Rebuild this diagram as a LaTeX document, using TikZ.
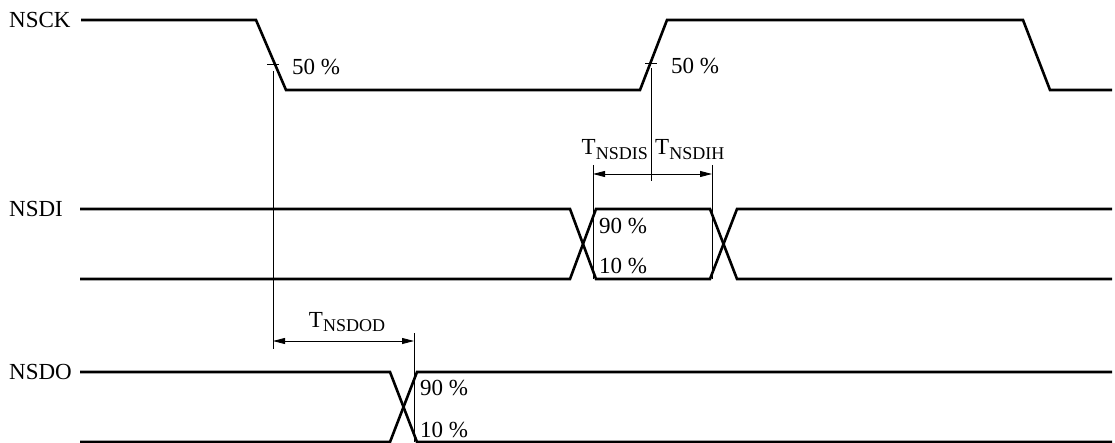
\documentclass[tikz,border=0pt]{standalone}
\usepackage{fontspec}
\setmainfont{Liberation Serif}
\usetikzlibrary{arrows.meta}
\newcommand\Tsubx[1]{T\raisebox{-4.5pt}{\fontsize{18}{18}\selectfont #1}}
\begin{document}
\begin{tikzpicture}[x=1pt,y=-1pt,
  sig/.style={line width=2.6pt, line join=miter},
  meas/.style={line width=0.9pt},
  dimarrow/.style={line width=0.9pt, {Triangle[length=12pt,width=6pt]}-{Triangle[length=12pt,width=6pt]}},
  lbl/.style={font=\fontsize{23}{27}\selectfont, inner sep=0pt},
]
\useasboundingbox (0,0) rectangle (1115,443);

% signal names
\node[lbl,anchor=west] (nsck) at (9,20) {NSCK};
\node[lbl,anchor=west] (nsdi) at (9,209) {NSDI};
\node[lbl,anchor=west] (nsdo) at (9,372) {NSDO};

% NSCK waveform
\draw[sig] (81,20) -- (256,20) -- (286,90) -- (640,90) -- (667,20) -- (1023,20) -- (1050,90) -- (1112,90);

% NSDI waveform
\draw[sig] (80,209) -- (570,209) -- (596,279) -- (710,279) -- (737,209) -- (1112,209);
\draw[sig] (80,279) -- (570,279) -- (596,209) -- (710,209) -- (737,279) -- (1112,279);

% NSDO waveform
\draw[sig] (80,372) -- (390,372) -- (417,442) -- (1112,442);
\draw[sig] (80,442) -- (390,442) -- (417,372) -- (1112,372);

% reference coordinates
\coordinate (fallref) at (273,64);
\coordinate (riseref) at (651,63);
\coordinate (fallbot) at (273,349);
\coordinate (risebot) at (651,181);
\coordinate (disL) at (593,165);
\coordinate (disLb) at (593,279);
\coordinate (dihR) at (712,165);
\coordinate (dihRb) at (712,279);
\coordinate (dodR) at (414,333);
\coordinate (dodRb) at (414,442);

% 50% marks and verticals
\draw[meas] ([xshift=-6pt]fallref) -- ([xshift=6pt]fallref);
\draw[meas] ([yshift=-7pt]fallref) -- (fallbot);
\draw[meas] ([xshift=-6pt]riseref) -- ([xshift=6pt]riseref);
\draw[meas] ([yshift=-5pt]riseref) -- (risebot);
\node[lbl,anchor=west] (p50a) at (292,67) {50 \%};
\node[lbl,anchor=west] (p50b) at (671,66) {50 \%};

% NSDI setup/hold
\draw[meas] (disL) -- (disLb);
\draw[meas] (dihR) -- (dihRb);
\draw[dimarrow] (593,174) -- (712,174);
\node[lbl,anchor=base east] (tdis) at (648,155) {\Tsubx{NSDIS}};
\node[lbl,anchor=base west] (tdih) at (655,155) {\Tsubx{NSDIH}};
\node[lbl,anchor=west] (di90) at (599,226) {90 \%};
\node[lbl,anchor=west] (di10) at (599,266) {10 \%};

% NSDO delay
\draw[meas] (dodR) -- (dodRb);
\draw[dimarrow] (273,341) -- (414,341);
\node[lbl,anchor=base] (tdod) at (347,327) {\Tsubx{NSDOD}};
\node[lbl,anchor=west] (do90) at (420,388) {90 \%};
\node[lbl,anchor=west] (do10) at (420,430) {10 \%};
\end{tikzpicture}
\end{document}
